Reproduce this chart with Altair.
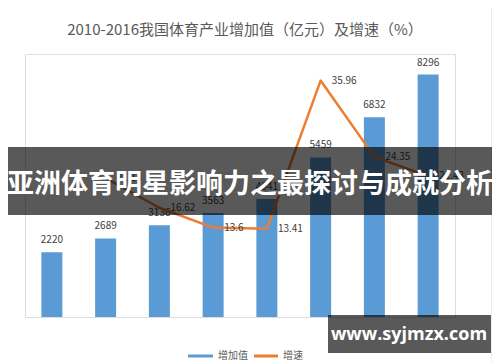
import altair as alt
import pandas as pd

years = ["2010", "2011", "2012", "2013", "2014", "2015", "2016", "2017"]
value_added = [2220, 2689, 3136, 3563, 4041, 5459, 6832, 8296]
growth_years = ["2011", "2012", "2013", "2014", "2015", "2016", "2017"]
growth = [21.13, 16.62, 13.6, 13.41, 35.96, 24.35, 21.43]

title_text = "2010-2016我国体育产业增加值（亿元）及增速（%）"
banner_text = "亚洲体育明星影响力之最探讨与成就分析"
watermark_text = "www.syjmzx.com"
legend_items = ["增加值", "增速"]

FONT = "Noto Sans CJK SC"
BLUE = "#5b9bd5"
ORANGE = "#ed7d31"
GRAY = "#595959"

W, H = 430, 263

bars_df = pd.DataFrame({"year": years, "value": value_added})
line_df = pd.DataFrame({"year": growth_years, "growth": growth})

xscale = alt.Scale(domain=years, paddingInner=0.6, paddingOuter=0.3)
xenc = alt.X("year:N", sort=years, title=None, scale=xscale,
             axis=alt.Axis(labelAngle=0, ticks=False, domainColor="#d9d9d9",
                           labelColor=GRAY, labelFontSize=10, labelPadding=8,
                           labelFont=FONT))
xplain = alt.X("year:N", sort=years, scale=xscale, axis=None)

yr = alt.Scale(domain=[0, 9000], nice=False)
yl = alt.Scale(domain=[0, 40], nice=False)

bars = alt.Chart(bars_df).mark_bar(color=BLUE, size=21).encode(
    x=xenc,
    y=alt.Y("value:Q", scale=yr, title=None,
            axis=alt.Axis(orient="right", values=list(range(0, 9001, 1000)),
                          format="d", labelOverlap=False,
                          grid=False, domain=False, ticks=False,
                          labelColor=GRAY, labelFontSize=10.5, labelPadding=7,
                          labelFont=FONT)),
)
bar_labels = alt.Chart(bars_df).mark_text(dy=-12, fontSize=10, color="#404040", font=FONT).encode(
    x=xplain,
    y=alt.Y("value:Q", scale=yr, axis=None),
    text="value:Q",
)
bar_layer = alt.layer(bars, bar_labels)

line = alt.Chart(line_df).mark_line(color=ORANGE, strokeWidth=2.5, strokeJoin="round").encode(
    x=xplain,
    y=alt.Y("growth:Q", scale=yl, title=None,
            axis=alt.Axis(orient="left", values=list(range(0, 41, 5)),
                          labelOverlap=False,
                          grid=True, gridColor="#e3e3e3", domain=False, ticks=False,
                          labelColor=GRAY, labelFontSize=10.5, labelPadding=7,
                          labelFont=FONT)),
)
line_labels = alt.Chart(line_df).mark_text(dx=11, align="left", baseline="middle",
                                           fontSize=10, color="#404040", font=FONT).encode(
    x=xplain,
    y=alt.Y("growth:Q", scale=yl, axis=None),
    text="growth:Q",
)
line_layer = alt.layer(line, line_labels)

one = pd.DataFrame({"t": [title_text]})
frame = alt.Chart(one).mark_rect(filled=False, stroke="#d9d9d9", strokeWidth=1).encode(
    x=alt.value(-22), x2=alt.value(467), y=alt.value(-48), y2=alt.value(330))
title = alt.Chart(one).mark_text(fontSize=15, color=GRAY, font=FONT).encode(
    text="t:N", x=alt.value(220), y=alt.value(-24))

leg1 = alt.Chart(pd.DataFrame({"t": [legend_items[0]]})).mark_rule(color=BLUE, strokeWidth=3).encode(
    x=alt.value(163), x2=alt.value(188), y=alt.value(302))
leg1t = alt.Chart(pd.DataFrame({"t": [legend_items[0]]})).mark_text(align="left", fontSize=10, color=GRAY, font=FONT).encode(
    text="t:N", x=alt.value(193), y=alt.value(302))
leg2 = alt.Chart(pd.DataFrame({"t": [legend_items[1]]})).mark_rule(color=ORANGE, strokeWidth=3).encode(
    x=alt.value(229), x2=alt.value(253), y=alt.value(302))
leg2t = alt.Chart(pd.DataFrame({"t": [legend_items[1]]})).mark_text(align="left", fontSize=10, color=GRAY, font=FONT).encode(
    text="t:N", x=alt.value(258), y=alt.value(302))

ban = pd.DataFrame({"t": [banner_text]})
banner = alt.Chart(ban).mark_rect(fill="black", opacity=0.65).encode(
    x=alt.value(-18), x2=alt.value(468), y=alt.value(93), y2=alt.value(161))
banner_t = alt.Chart(ban).mark_text(fontSize=27, fontWeight="bold", color="white", font=FONT).encode(
    text="t:N", x=alt.value(225), y=alt.value(131))

wm = pd.DataFrame({"t": [watermark_text]})
wm_box = alt.Chart(wm).mark_rect(fill="black", opacity=0.65).encode(
    x=alt.value(303), x2=alt.value(466), y=alt.value(261), y2=alt.value(299))
wm_t = alt.Chart(wm).mark_text(fontSize=18, fontWeight="bold", color="white", font="Open Sans").encode(
    text="t:N", x=alt.value(384), y=alt.value(281))

chart = alt.layer(
    frame, title, bar_layer, line_layer, leg1, leg1t, leg2, leg2t,
    banner, banner_t, wm_box, wm_t,
).resolve_scale(y="independent").properties(
    width=W, height=H,
    autosize=alt.AutoSizeParams(type="none"),
    padding={"left": 17, "top": 46, "right": 37, "bottom": 45},
).configure_view(stroke=None).configure(background="white")

chart.save("out.html", embed_options={"renderer": "svg", "actions": False})
